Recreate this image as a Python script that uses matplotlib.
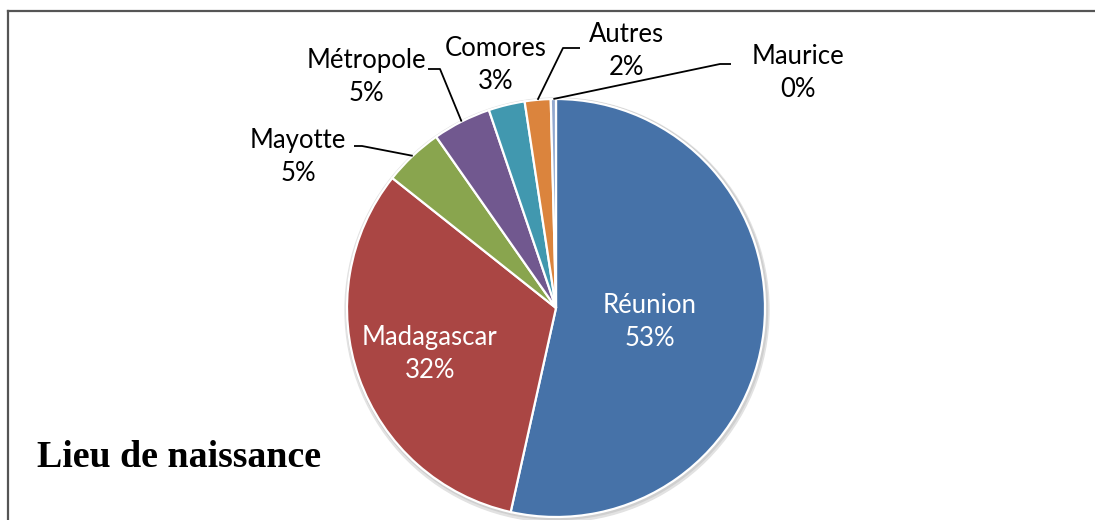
import numpy as np
import matplotlib
matplotlib.use('Agg')
import matplotlib.pyplot as plt
from matplotlib.patches import Circle

# data
categories = ['Réunion', 'Madagascar', 'Mayotte', 'Métropole', 'Comores', 'Autres', 'Maurice']
values = [53.48, 32.2, 4.6, 4.52, 2.8, 2.0, 0.4]
colors = ['#4672A8', '#AA4644', '#89A54E', '#71588F', '#4198AF', '#DB843D', '#93A9CF']
title = 'Lieu de naissance'

W, H = 1095, 520
LABEL_FONT = ['Lato', 'DejaVu Sans']

def Y(y):
    # picture rows -> axes units (origin bottom left)
    return H - y

fig = plt.figure(figsize=(W / 100, H / 100), dpi=100)
ax = fig.add_axes([0, 0, 1, 1])

cx, cy, r = 556, Y(308), 209

# soft shadow round the pie
ax.add_patch(Circle((cx + 1, cy - 2), r + 3, color='#e2e2e2', zorder=0))
ax.add_patch(Circle((cx + 1, cy - 1), r + 1.5, color='#cfcfcf', zorder=0))

wedges, _ = ax.pie(values, colors=colors, startangle=90, counterclock=False,
                   center=(cx, cy), radius=r, frame=True,
                   wedgeprops=dict(edgecolor='white', linewidth=1.6))

labels = ['%s\n%.0f%%' % (c, v) for c, v in zip(categories, values)]

# label block centres and elbow of leader lines (None = no leader)
label_pos = [(650, 322), (430, 354), (298, 157), (366, 77), (496, 65), (626, 51), (798, 73)]
elbows = [None, None, [(362, 146), (354, 146)], [(440, 69), (428, 69)], None,
          [(563, 48), (580, 48)], [(720, 64), (731, 64)]]

for i, w in enumerate(wedges):
    tc = 'white' if i < 2 else 'black'
    ax.text(label_pos[i][0], Y(label_pos[i][1]), labels[i], ha='center', va='center',
            fontsize=18.5, color=tc, family=LABEL_FONT, linespacing=1.42, zorder=5)
    if elbows[i] is not None:
        ang = np.deg2rad((w.theta1 + w.theta2) / 2)
        ex, ey = cx + r * np.cos(ang), cy + r * np.sin(ang)
        pts = [(ex, ey)] + [(px, Y(py)) for px, py in elbows[i]]
        ax.plot([p[0] for p in pts], [p[1] for p in pts], color='black', lw=1.3,
                solid_capstyle='butt', zorder=4)

ax.text(37, Y(467), title, ha='left', va='baseline', fontsize=27.3, fontweight='bold',
        family=['Liberation Serif', 'DejaVu Serif'])

# frame lines (top and left)
ax.plot([8, W], [Y(11), Y(11)], color='#555555', lw=1.6, zorder=6)
ax.plot([8, 8], [Y(11), 0], color='#555555', lw=1.6, zorder=6)

ax.set_xlim(0, W)
ax.set_ylim(0, H)
ax.axis('off')

fig.savefig('out.png', dpi=100)
